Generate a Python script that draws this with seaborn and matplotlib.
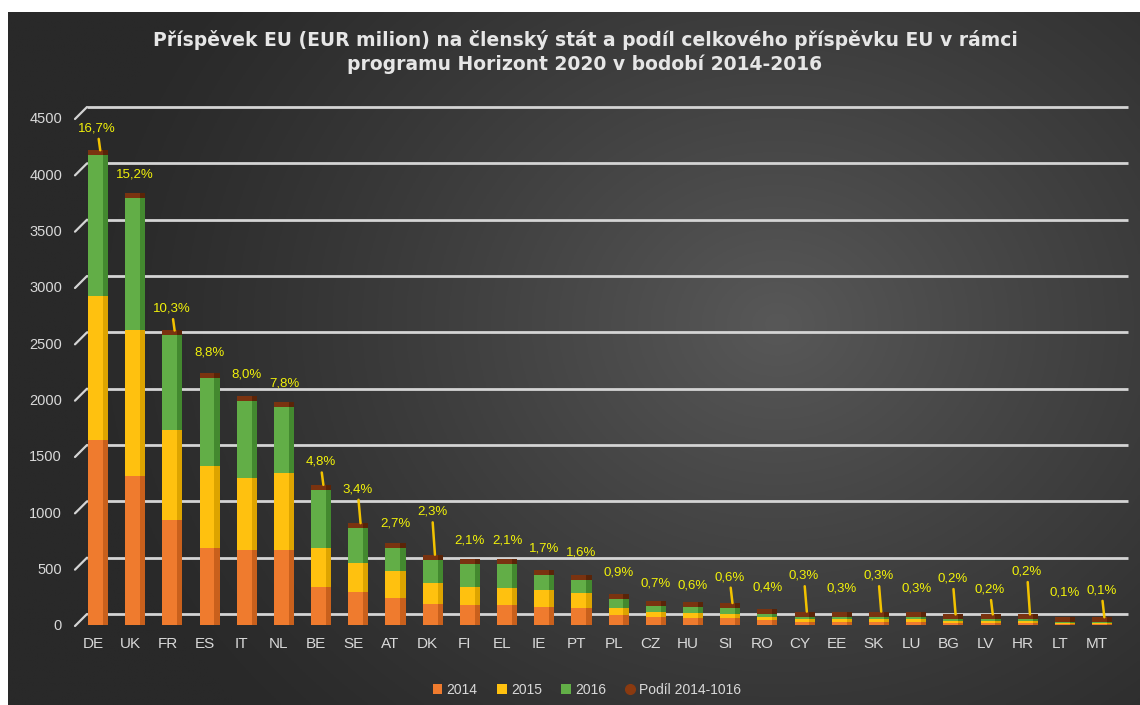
import numpy as np
import matplotlib
matplotlib.use("Agg")
import matplotlib.pyplot as plt
import matplotlib.transforms as mtransforms
from matplotlib.patches import Rectangle, Patch
from matplotlib.lines import Line2D
import seaborn as sns

# ---------------- data ----------------
countries = ["DE", "UK", "FR", "ES", "IT", "NL", "BE", "SE", "AT", "DK", "FI", "EL", "IE", "PT",
             "PL", "CZ", "HU", "SI", "RO", "CY", "EE", "SK", "LU", "BG", "LV", "HR", "LT", "MT"]
v2014 = [1640, 1320, 930, 680, 665, 665, 335, 290, 240, 190, 178, 178, 160, 150,
         90, 70, 62, 62, 40, 30, 30, 30, 30, 20, 20, 20, 10, 10]
v2015 = [1280, 1300, 800, 730, 640, 685, 350, 260, 235, 185, 159, 151, 150, 134,
         62, 45, 45, 36, 30, 25, 25, 25, 25, 15, 15, 15, 8, 8]
v2016 = [1250, 1170, 840, 780, 685, 585, 515, 310, 210, 205, 208, 213, 134, 116,
         80, 55, 53, 53, 30, 20, 20, 20, 20, 15, 15, 15, 7, 7]
share = [16.7, 15.2, 10.3, 8.8, 8.0, 7.8, 4.8, 3.4, 2.7, 2.3, 2.1, 2.1, 1.7, 1.6,
         0.9, 0.7, 0.6, 0.6, 0.4, 0.3, 0.3, 0.3, 0.3, 0.2, 0.2, 0.2, 0.1, 0.1]
yticks = [0, 500, 1000, 1500, 2000, 2500, 3000, 3500, 4000, 4500]
title = ("Příspěvek EU (EUR milion) na členský stát a podíl celkového příspěvku EU v rámci\n"
         "programu Horizont 2020 v bodobí 2014-2016")
legend_labels = ["2014", "2015", "2016", "Podíl 2014-1016"]

# ---------------- style ----------------
C14, C15, C16, CCAP = "#EF7B2E", "#FFC10F", "#62AE47", "#7A3310"
S14, S15, S16, SCAP = "#C9601C", "#DDA400", "#43892F", "#5A2408"
YEL = "#F2F20A"
TXT = "#D9D9D9"
CAP_H = 44          # visual thickness of the top cap (style)
BAR_W = 0.54
# label offsets in pixels above bar tops, leader flag
lab_off = [22, 19, 22, 21, 21, 19, 23, 34, 19, 43, 18, 18, 22, 22,
           21, 17, 17, 26, 21, 36, 23, 36, 23, 36, 25, 43, 25, 27]
leader = {"DE", "FR", "BE", "SE", "DK", "SI", "CY", "SK", "BG", "LV", "HR", "MT"}

W, H = 1140, 705
fig = plt.figure(figsize=(W / 100, H / 100), dpi=100, facecolor="white")

# background gradient
bg = fig.add_axes([8 / W, 0, 1 - 8 / W, 1 - 12 / H])
bg.set_axis_off()
gx, gy = np.meshgrid(np.linspace(0, 1, 400), np.linspace(0, 1, 300))
r = np.sqrt(((gx - 0.68) / 0.62) ** 2 + ((gy - 0.45) / 0.85) ** 2)
t = np.clip(1 - r, 0, 1) ** 1.2
inner = np.array([0x58, 0x58, 0x58]) / 255
outer = np.array([0x29, 0x29, 0x29]) / 255
img = outer[None, None, :] + (inner - outer)[None, None, :] * t[..., None]
bg.imshow(img, aspect="auto", extent=[0, 1, 0, 1], origin="upper")
bg.set_xlim(0, 1)
bg.set_ylim(0, 1)

sns.set_style("dark")
plt.rcParams["font.family"] = ["Liberation Sans", "DejaVu Sans"]

ax = fig.add_axes([87 / W, 1 - 625 / H, 1041 / W, 507 / H])
ax.set_facecolor("none")
for s in ax.spines.values():
    s.set_visible(False)

tot12 = [a + b for a, b in zip(v2014, v2015)]
total = [a + b for a, b in zip(tot12, v2016)]
cap = [t_ + CAP_H for t_ in total]

layers = [(cap, CCAP, SCAP), (total, C16, S16), (tot12, C15, S15), (v2014, C14, S14)]
for vals, col, side in layers:
    n0 = len(ax.patches)
    sns.barplot(x=countries, y=vals, color=col, saturation=1, width=BAR_W,
                ax=ax, zorder=3, linewidth=0)
    for p in list(ax.patches[n0:]):
        w = p.get_width()
        ax.add_patch(Rectangle((p.get_x() + 0.74 * w, p.get_y()), 0.26 * w,
                               p.get_height(), facecolor=side, edgecolor="none",
                               zorder=3))

ax.set_xlim(-0.296, 27.696)
ax.set_ylim(0, 4500)
ax.set_yticks(yticks)
ax.set_xlabel("")
ax.set_ylabel("")
ax.grid(False)

# back-wall gridlines and perspective slashes
off = mtransforms.ScaledTranslation(0, 11 / 100, fig.dpi_scale_trans)
blend = mtransforms.blended_transform_factory(ax.transAxes, ax.transData) + off
for v in yticks:
    ax.plot([0, 1], [v, v], transform=blend, color="#D4D4D4", lw=2.0,
            zorder=1, clip_on=False, solid_capstyle="butt")
    ax.annotate("", xy=(0, v), xycoords=blend, xytext=(-12, -12),
                textcoords="offset pixels", annotation_clip=False,
                arrowprops=dict(arrowstyle="-", color="#D4D4D4", lw=1.6,
                                shrinkA=0, shrinkB=0))

ax.tick_params(axis="y", length=0, pad=18, labelsize=10.5, labelcolor=TXT)
ax.tick_params(axis="x", length=0, pad=9, labelsize=11, labelcolor=TXT)
shift = mtransforms.ScaledTranslation(-5 / 100, 0, fig.dpi_scale_trans)
for lab in ax.get_xticklabels():
    lab.set_transform(lab.get_transform() + shift)

# percentage labels
for i, (c, s, tp) in enumerate(zip(countries, share, cap)):
    txt = f"{s:.1f}%".replace(".", ",")
    if c in leader:
        ax.annotate(txt, xy=(i + 0.06, tp), xytext=(-3, lab_off[i]),
                    textcoords="offset pixels", ha="center", va="center",
                    color=YEL, fontsize=9.5, zorder=5,
                    arrowprops=dict(arrowstyle="-", color="#F2C200", lw=1.8,
                                    shrinkA=1, shrinkB=0))
    else:
        ax.annotate(txt, xy=(i, tp), xytext=(0, lab_off[i]),
                    textcoords="offset pixels", ha="center", va="center",
                    color=YEL, fontsize=9.5, zorder=5)

# title
fig.text(585 / W, 1 - 52 / H, title, ha="center", va="center", color="#E6E6E6",
         fontsize=13.5, fontweight="bold", family=["DejaVu Sans"], linespacing=1.25)

# legend
handles = [Patch(facecolor=C14, edgecolor="none"),
           Patch(facecolor=C15, edgecolor="none"),
           Patch(facecolor=C16, edgecolor="none"),
           Line2D([], [], marker="o", ls="none", color="#8A3A10", markersize=7)]
fig.legend(handles, legend_labels, loc="center", bbox_to_anchor=(587 / W, 1 - 690 / H),
           ncol=4, frameon=False, fontsize=10, labelcolor=TXT, handlelength=0.7,
           handleheight=0.7, handletextpad=0.3, columnspacing=1.4)

fig.savefig("out.png", dpi=100, facecolor="white")
